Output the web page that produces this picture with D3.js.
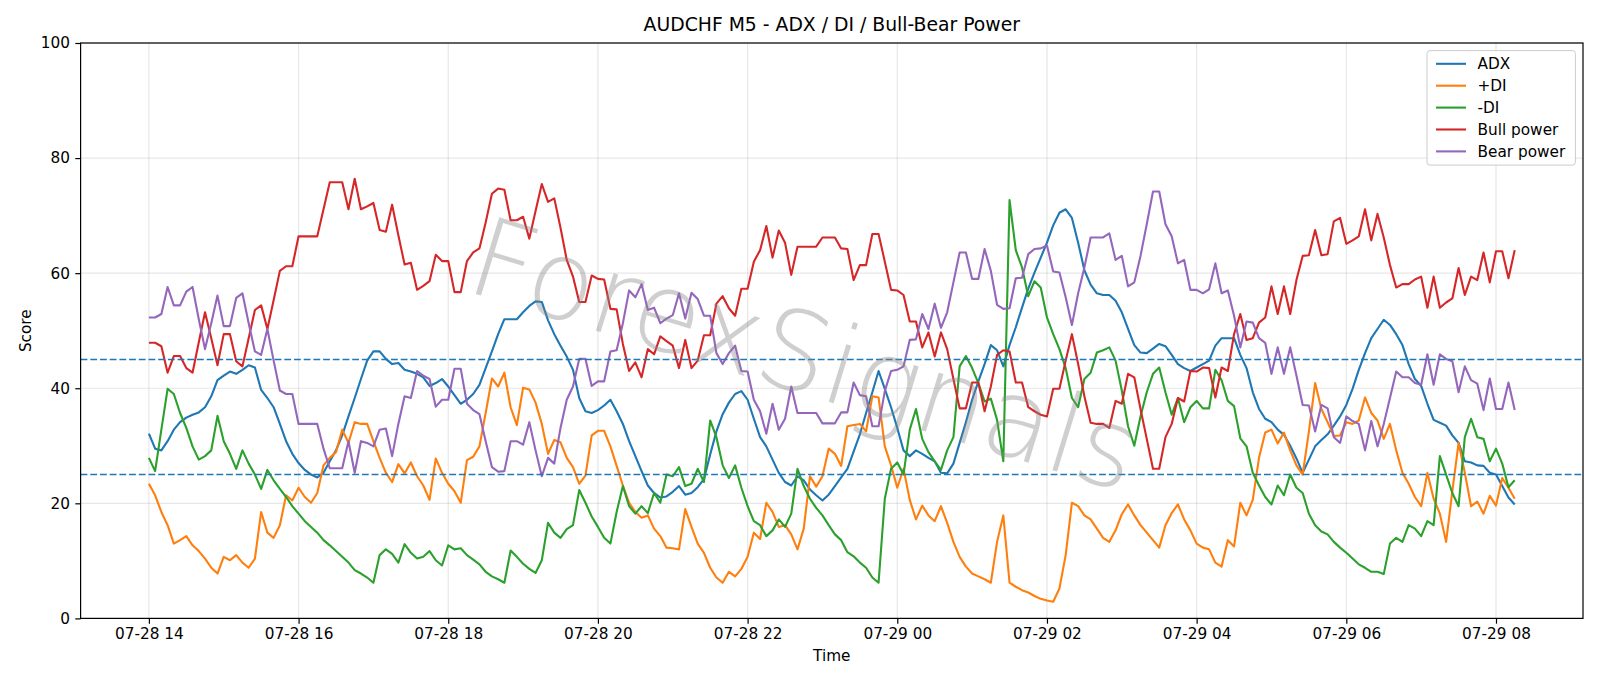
<!DOCTYPE html>
<html>
<head>
<meta charset="utf-8">
<script src="https://cdn.jsdelivr.net/npm/d3@7/dist/d3.min.js"></script>
<style>
  body { margin: 0; background: #fff; }
  svg text { font-family: "DejaVu Sans", sans-serif; }
</style>
</head>
<body>
<svg id="chart" width="1600" height="686"></svg>
<script>
// chart data (one value every 5 minutes from 07-28 14:00)
const chartTitle = 'AUDCHF M5 - ADX / DI / Bull-Bear Power'
const startTime = '2025-07-28T14:00:00Z'
const stepMinutes = 5

const adx = [32.1,29.5,29.2,30.8,32.8,34.1,34.9,35.4,35.8,36.7,38.6,41.4,42.2,42.9,42.5,43.2,44.0,43.6,39.7,38.3,
  36.7,33.8,30.8,28.6,27.0,25.8,25.0,24.5,25.3,27.3,29.2,31.8,35.1,38.3,41.6,44.8,46.4,46.4,45.1,44.2,
  44.4,43.2,42.9,42.5,41.9,40.4,40.9,41.6,40.3,38.8,37.3,38.0,39.0,40.6,43.5,46.4,49.4,52.0,52.0,52.0,
  53.2,54.3,55.1,55.0,51.8,49.4,47.4,45.5,43.2,38.3,36.0,35.7,36.2,37.0,38.0,36.0,33.8,30.8,28.2,25.6,
  23.1,21.8,21.0,21.2,22.0,23.0,21.5,21.8,22.8,24.2,28.5,32.5,35.5,37.5,39.0,39.5,38.0,34.7,31.5,29.9,
  27.6,25.3,23.7,23.1,24.7,24.0,22.4,21.4,20.5,21.5,23.0,24.5,26.0,29.0,32.0,35.7,39.3,43.0,39.9,36.7,
  33.1,29.2,28.2,29.2,28.6,27.9,27.3,25.3,25.2,26.9,30.5,34.1,38.0,41.2,44.2,47.5,46.6,43.8,47.5,50.6,
  54.0,57.3,60.1,62.7,65.3,68.3,70.5,71.1,69.6,65.3,60.5,58.0,56.5,56.2,56.2,55.2,53.2,50.3,47.5,46.2,
  46.1,46.9,47.7,47.3,45.8,44.2,43.5,43.0,43.6,44.2,44.8,47.4,48.7,48.7,48.7,45.8,43.5,39.3,36.4,34.7,
  34.1,32.8,31.9,30.0,27.8,25.3,27.6,29.9,31.0,32.0,33.5,35.1,37.1,39.9,43.2,46.1,48.7,50.3,51.9,51.0,
  49.4,47.5,44.2,41.6,40.4,37.3,34.5,34.0,33.5,31.8,30.5,27.3,27.1,26.6,26.5,25.3,25.0,23.0,21.0,19.8]

const plusDI = [23.4,21.4,18.5,16.2,13.0,13.6,14.3,12.7,11.7,10.4,8.8,7.8,10.7,10.1,11.0,9.7,8.8,10.4,18.5,14.9,
  14.0,16.2,21.4,20.5,22.7,21.1,20.1,21.8,26.6,27.9,28.9,32.8,30.5,34.1,33.8,33.8,30.8,27.9,25.3,23.7,
  26.8,25.2,27.1,24.7,23.1,20.6,27.8,25.3,23.4,22.1,20.1,27.5,28.1,29.9,35.7,41.7,40.3,42.7,36.7,33.6,
  40.1,39.8,37.5,33.8,28.6,31.0,30.6,27.9,26.3,23.4,24.8,31.8,32.6,32.6,29.9,26.5,23.1,20.1,18.5,17.5,
  17.9,15.6,14.3,12.3,12.2,12.0,19.0,15.9,13.0,11.4,8.8,7.1,6.2,8.1,7.3,8.6,10.7,14.9,13.8,20.1,
  18.5,15.9,16.2,14.6,12.0,15.6,24.7,22.9,24.7,29.5,28.6,26.5,33.4,33.6,33.8,32.5,38.6,38.4,29.9,26.6,
  22.7,26.0,20.6,17.2,19.6,17.9,16.9,19.5,16.6,13.3,10.7,9.0,7.8,7.3,6.8,6.2,13.3,17.9,6.2,5.5,
  4.9,4.5,3.9,3.4,3.1,2.9,5.2,11.0,20.1,19.5,17.9,17.2,15.6,14.0,13.3,15.3,18.1,19.8,17.9,16.2,
  14.9,13.6,12.3,16.2,18.3,19.8,17.2,15.3,13.0,12.3,12.0,9.7,9.0,13.6,12.5,20.1,17.9,20.6,27.9,32.3,
  32.8,30.4,32.3,29.2,26.6,25.0,32.5,40.9,36.4,34.1,31.7,31.8,34.1,33.8,34.4,38.4,35.7,34.4,31.2,33.8,
  29.2,25.3,23.4,21.1,19.5,25.3,20.8,18.2,13.3,22.1,30.5,25.3,19.5,20.3,18.2,21.3,19.6,24.4,22.7,20.8]

const minusDI = [27.9,25.6,32.8,39.9,39.0,35.7,33.1,29.9,27.6,28.2,29.2,35.2,30.8,28.6,26.0,29.2,26.9,25.0,22.5,25.8,
  24.0,22.5,21.1,19.5,18.2,16.9,15.9,14.9,13.6,12.7,11.7,10.7,9.7,8.4,7.8,7.1,6.2,11.0,12.0,11.2,
  9.7,12.9,11.4,10.4,10.7,11.7,10.1,9.2,12.7,12.0,12.2,11.0,10.2,9.4,8.1,7.3,6.8,6.2,11.8,10.7,
  9.5,8.6,7.9,10.1,16.6,14.9,14.0,15.5,16.2,22.3,20.1,17.7,15.9,14.0,13.0,18.5,23.0,19.5,18.2,19.5,
  18.3,21.8,20.1,25.0,24.7,26.3,23.0,23.4,26.0,23.7,34.4,31.5,26.6,24.4,26.6,22.7,19.5,16.9,16.2,14.3,
  15.3,17.2,15.9,18.2,26.0,23.0,20.8,19.2,17.9,16.2,14.6,13.6,11.5,10.8,9.7,8.8,7.1,6.2,20.8,26.0,
  27.1,25.0,32.8,36.4,31.2,28.9,27.3,25.8,29.2,31.5,43.8,45.6,43.5,40.9,37.7,38.2,34.5,27.3,72.7,64.0,
  61.0,56.0,58.6,57.5,52.3,49.4,46.8,43.5,38.3,36.7,41.6,42.7,46.2,46.6,47.1,44.8,39.6,33.4,30.0,35.1,
  39.3,42.5,43.6,39.3,35.4,38.3,34.1,36.7,37.8,36.5,36.5,43.2,41.4,37.8,36.9,31.3,29.9,25.3,23.1,21.1,
  19.8,23.1,21.4,25.0,22.7,21.8,18.2,16.2,15.1,14.6,13.3,12.3,11.4,10.4,9.4,8.8,8.1,8.1,7.7,13.0,
  14.0,13.3,16.2,15.6,14.3,16.9,16.2,28.2,25.0,21.8,19.5,31.5,34.7,31.5,31.2,27.3,29.5,26.9,22.8,24.0]

const bullPower = [47.9,47.9,47.3,42.7,45.6,45.6,43.5,42.7,48.0,53.2,48.7,44.0,49.4,49.4,44.7,43.8,48.7,53.6,54.4,50.3,
  55.3,60.4,61.2,61.2,66.4,66.4,66.4,66.4,71.1,75.8,75.8,75.8,71.1,76.4,71.1,71.6,72.2,67.5,67.2,71.9,
  66.6,61.5,61.8,57.1,57.8,58.6,63.2,62.1,62.1,56.7,56.7,62.1,63.6,64.3,68.8,73.8,74.7,74.5,69.2,69.2,
  69.8,66.0,70.8,75.5,72.4,73.0,67.9,62.3,59.4,55.0,55.0,59.6,59.0,58.9,53.8,53.7,47.7,43.0,44.5,41.9,
  46.8,45.9,49.0,48.2,47.4,43.5,48.4,43.5,44.8,49.2,49.2,54.7,56.0,53.9,52.6,57.3,57.3,62.0,64.0,68.2,
  62.7,67.4,65.3,59.7,64.6,64.6,64.6,64.6,66.2,66.2,66.2,64.3,64.2,58.8,61.4,61.4,66.8,66.8,62.0,57.1,
  57.0,56.2,51.6,51.6,47.1,49.7,45.5,49.7,46.8,41.6,36.5,36.5,41.0,41.0,36.0,40.3,45.8,46.6,46.4,41.0,
  41.0,36.7,36.0,35.4,35.1,39.9,39.9,44.8,49.4,44.2,38.6,34.0,33.8,33.8,33.1,37.8,37.3,42.5,41.9,36.4,
  31.2,26.0,26.0,31.5,33.8,38.3,37.7,43.0,42.9,43.6,43.5,38.4,43.6,43.0,49.4,52.9,48.4,48.7,51.4,52.3,
  57.7,52.9,57.7,52.9,58.8,63.0,63.1,67.5,63.1,63.3,69.0,69.6,65.1,65.7,66.4,71.1,65.7,70.3,66.2,61.4,
  57.5,58.1,58.1,58.9,59.4,54.0,59.4,54.0,54.9,55.6,60.9,56.2,59.4,58.8,63.6,58.4,63.8,63.8,59.1,64.0]

const bearPower = [52.3,52.3,52.9,57.6,54.4,54.4,56.8,57.6,52.0,46.8,51.3,56.1,50.8,50.8,55.7,56.5,51.3,46.4,45.8,50.3,
  44.8,39.6,39.0,39.0,33.8,33.8,33.8,33.8,29.5,26.1,26.1,26.1,30.8,25.3,30.8,30.5,29.9,32.8,33.0,28.2,
  33.8,38.6,38.3,43.0,42.2,41.6,36.8,38.0,38.0,43.4,43.4,37.3,36.2,35.5,30.8,26.3,25.5,25.6,30.8,30.8,
  30.2,34.1,29.2,24.7,27.9,26.9,33.1,38.0,40.3,45.1,45.1,40.4,41.2,41.2,46.4,46.6,51.3,57.0,55.8,58.1,
  53.6,54.0,51.3,52.1,52.7,56.5,52.1,56.6,55.5,52.6,52.6,46.1,44.2,46.1,47.4,43.0,42.9,38.0,36.0,32.1,
  37.3,32.8,34.7,40.3,35.7,35.7,35.7,35.7,33.9,33.9,33.9,35.8,35.8,41.0,38.8,38.6,33.4,33.4,39.5,43.0,
  43.2,43.8,48.4,48.5,52.9,50.3,54.7,50.5,53.2,58.4,63.6,63.6,59.0,59.0,64.2,60.4,54.5,53.8,53.9,59.1,
  59.2,63.3,64.2,64.3,64.8,60.3,60.1,55.8,51.0,56.5,61.0,66.2,66.2,66.2,66.9,62.3,63.0,57.7,58.4,63.0,
  68.5,74.2,74.2,68.5,66.4,61.7,62.3,57.1,57.1,56.5,57.2,61.7,56.5,57.0,52.6,47.1,51.6,51.4,48.7,47.9,
  42.5,47.1,42.5,47.1,42.2,37.1,37.0,32.5,37.1,36.5,31.5,30.5,35.1,34.3,33.8,29.2,34.3,29.9,33.8,38.3,
  42.9,41.9,41.9,40.9,40.6,45.9,40.6,45.9,45.1,44.7,39.3,43.8,41.4,40.8,36.2,41.7,36.4,36.4,41.0,36.2]

const seriesNames = ['ADX', '+DI', '-DI', 'Bull power', 'Bear power']
const seriesValues = [adx, plusDI, minusDI, bullPower, bearPower]
const seriesColors = ['#1f77b4', '#ff7f0e', '#2ca02c', '#d62728', '#9467bd']
const levelLines = [25, 45]
const yTicks = [0, 20, 40, 60, 80, 100]
const watermarkText = 'ForexSignals'

//Setting up the chart
const svg = d3.select('#chart')
const margin = {top: 43, right: 17, bottom: 68, left: 80.6}
const width = +svg.attr('width')
const height = +svg.attr('height')
const visWidth = width - margin.left - margin.right
const visHeight = 618.4 - margin.top

const fs = 15.3 // tick / label / legend font size

const t0 = new Date(startTime)
const times = adx.map((d, i) => new Date(+t0 + i * stepMinutes * 60000))
const span = times[times.length - 1] - times[0]

const xScale = d3.scaleUtc()
  .domain([new Date(+times[0] - span * 0.05), new Date(+times[times.length - 1] + span * 0.05)])
  .range([0, visWidth])

const yScale = d3.scaleLinear()
  .domain([0, 100])
  .range([visHeight, 0])

const xTicks = xScale.ticks(d3.utcHour.every(2))

const g = svg.append('g').attr('transform', `translate(${margin.left},${margin.top})`)

// grid
g.append('g').selectAll('line.gx')
  .data(xTicks)
  .join('line')
  .attr('x1', d => xScale(d)).attr('x2', d => xScale(d))
  .attr('y1', 0).attr('y2', visHeight)
  .attr('stroke', '#b0b0b0').attr('stroke-opacity', 0.3).attr('stroke-width', 1.2)

g.append('g').selectAll('line.gy')
  .data(yTicks)
  .join('line')
  .attr('x1', 0).attr('x2', visWidth)
  .attr('y1', d => yScale(d)).attr('y2', d => yScale(d))
  .attr('stroke', '#b0b0b0').attr('stroke-opacity', 0.3).attr('stroke-width', 1.2)

// series
const line = d3.line()
  .x((d, i) => xScale(times[i]))
  .y(d => yScale(d))

seriesValues.forEach((vals, k) => {
  g.append('path')
    .datum(vals)
    .attr('d', line)
    .attr('fill', 'none')
    .attr('stroke', seriesColors[k])
    .attr('stroke-width', 2.1)
    .attr('stroke-linejoin', 'round')
})

// threshold lines
g.append('g').selectAll('line')
  .data(levelLines)
  .join('line')
  .attr('x1', 0).attr('x2', visWidth)
  .attr('y1', d => yScale(d)).attr('y2', d => yScale(d))
  .attr('stroke', '#1f77b4')
  .attr('stroke-width', 1.6)
  .attr('stroke-dasharray', '6.8,2.9')

// watermark
svg.append('text')
  .attr('transform', 'translate(463,290) rotate(17)')
  .text(watermarkText)
  .attr('font-size', 110)
  .attr('font-weight', 200)
  .attr('fill', '#888')
  .attr('fill-opacity', 0.4)

// axes
const xAxis = g.append('g')
  .attr('transform', `translate(0,${visHeight})`)
  .call(d3.axisBottom(xScale)
    .tickValues(xTicks)
    .tickFormat(d3.utcFormat('%m-%d %H'))
    .tickSize(5.3)
    .tickPadding(5.3))
xAxis.select('.domain').remove()
xAxis.selectAll('line').attr('stroke', '#000').attr('stroke-width', 1.2)
xAxis.selectAll('text').attr('font-size', fs).attr('fill', '#000').attr('dy', '0.66em')
xAxis.attr('font-family', null)

const yAxis = g.append('g')
  .call(d3.axisLeft(yScale)
    .tickValues(yTicks)
    .tickSize(5.3)
    .tickPadding(5.3))
yAxis.select('.domain').remove()
yAxis.selectAll('line').attr('stroke', '#000').attr('stroke-width', 1.2)
yAxis.selectAll('text').attr('font-size', fs).attr('fill', '#000')
yAxis.attr('font-family', null)

// frame
g.append('rect')
  .attr('width', visWidth).attr('height', visHeight)
  .attr('fill', 'none').attr('stroke', '#000').attr('stroke-width', 1.2)

// titles
svg.append('text')
  .attr('x', margin.left + visWidth / 2).attr('y', 31)
  .attr('text-anchor', 'middle')
  .attr('font-size', 18.8)
  .text(chartTitle)

svg.append('text')
  .attr('x', margin.left + visWidth / 2).attr('y', 661)
  .attr('text-anchor', 'middle')
  .attr('font-size', fs)
  .text('Time')

svg.append('text')
  .attr('transform', `translate(31,${margin.top + visHeight / 2}) rotate(-90)`)
  .attr('text-anchor', 'middle')
  .attr('font-size', fs)
  .text('Score')

// legend
const legend = svg.append('g').attr('transform', 'translate(1427,50.6)')
legend.append('rect')
  .attr('width', 148.4).attr('height', 114.5)
  .attr('rx', 3)
  .attr('fill', '#fff').attr('fill-opacity', 0.8)
  .attr('stroke', '#ccc')

const item = legend.selectAll('g.item')
  .data(seriesNames)
  .join('g')
  .attr('transform', (d, i) => `translate(0,${13.2 + i * 21.9})`)

item.append('line')
  .attr('x1', 9).attr('x2', 39)
  .attr('stroke', (d, i) => seriesColors[i])
  .attr('stroke-width', 2.1)

item.append('text')
  .attr('x', 50.5)
  .attr('dy', '0.36em')
  .attr('font-size', fs)
  .text(d => d)
</script>
</body>
</html>
